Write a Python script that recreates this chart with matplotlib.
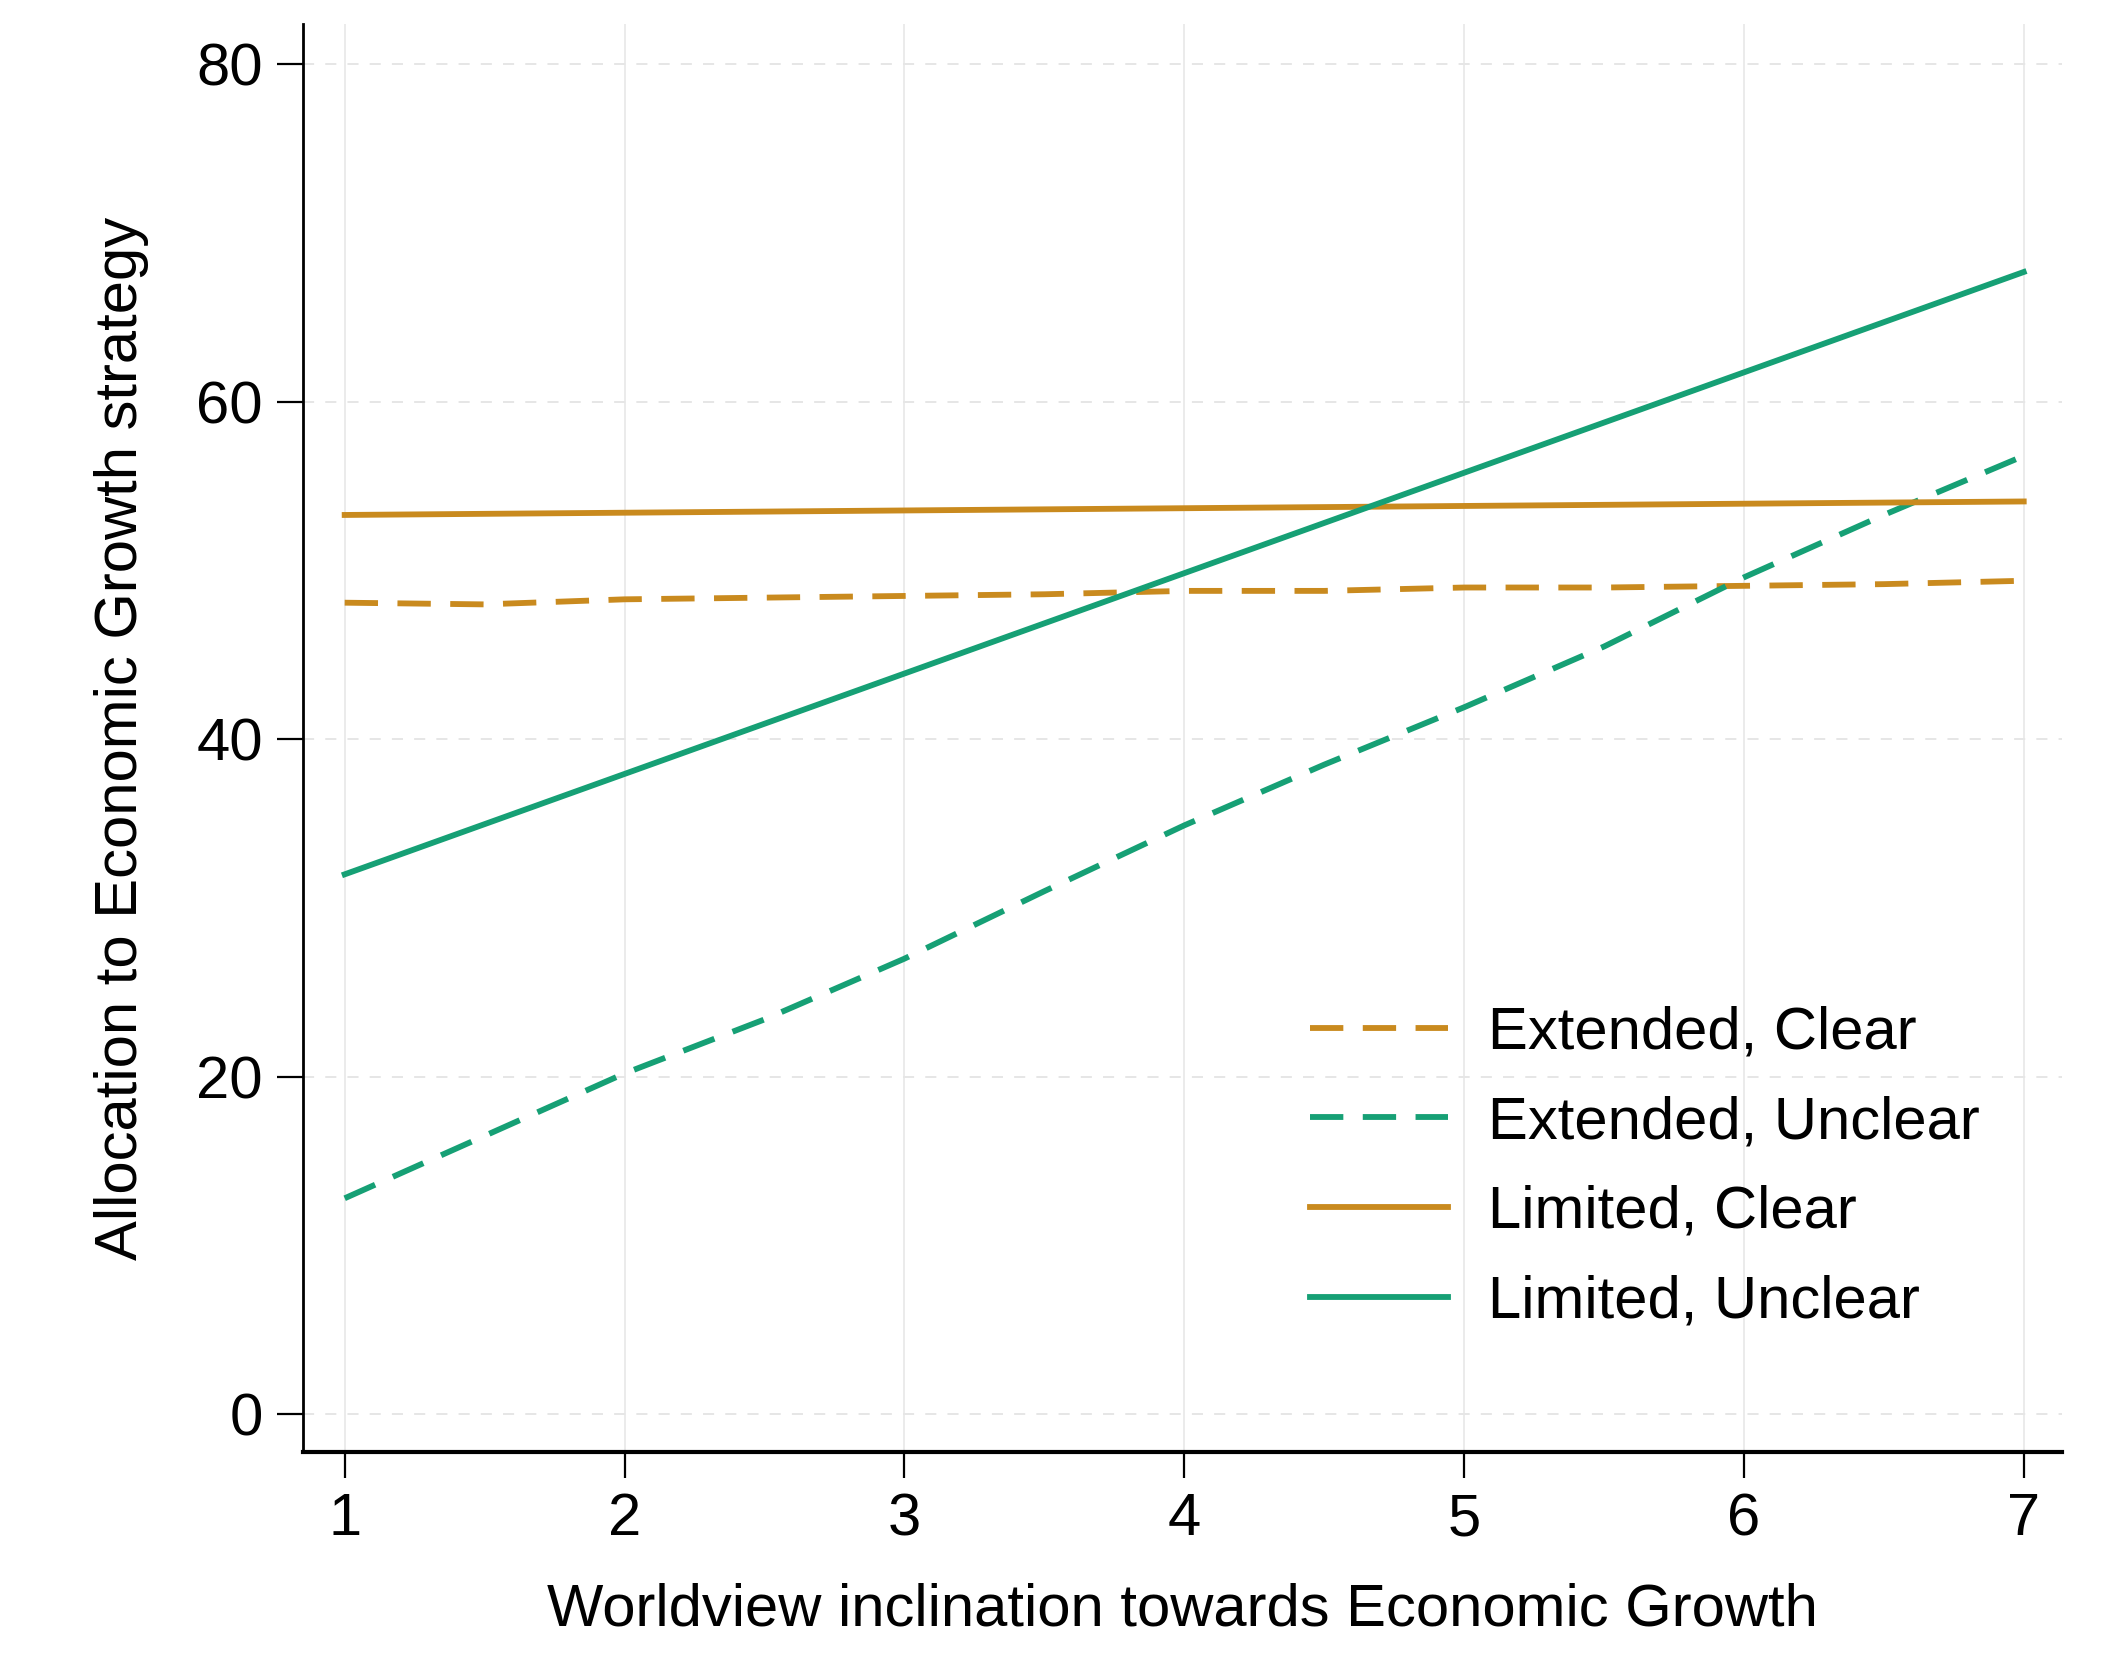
import matplotlib
matplotlib.use("Agg")
import matplotlib.pyplot as plt

plt.rcParams['font.family'] = ['Liberation Sans', 'DejaVu Sans']
plt.rcParams['lines.scale_dashes'] = False

x = [1, 1.5, 2, 2.5, 3, 3.5, 4, 4.5, 5, 5.5, 6, 6.5, 7]
extended_clear = [48.1, 48.0, 48.3, 48.4, 48.5, 48.6, 48.8, 48.8, 49.0, 49.0, 49.1, 49.2, 49.4]
extended_unclear = [12.8, 16.5, 20.2, 23.4, 27.0, 31.0, 34.9, 38.5, 41.9, 45.5, 49.6, 53.3, 56.8]
limited_x = [1, 7]
limited_clear = [53.3, 54.1]
limited_unclear = [32.0, 67.7]

xticks = [1, 2, 3, 4, 5, 6, 7]
yticks = [0, 20, 40, 60, 80]

orange = "#C98A1E"
green = "#16A075"
FS = 43

fig = plt.figure(figsize=(21.06, 16.54), dpi=100)
ax = fig.add_axes([0.144, 0.122, 0.835, 0.8635])

for xt in xticks:
    ax.axvline(xt, color="#ebebeb", lw=1.4, zorder=0)
for yt in yticks:
    ax.axhline(yt, color="#e6e6e6", lw=1.4, ls=(0, (8, 8)), zorder=0)

lw = 4.2
dash = (0, (24, 14))
ax.plot(x, extended_clear, color=orange, lw=lw, ls=dash, label="Extended, Clear")
ax.plot(x, extended_unclear, color=green, lw=lw, ls=dash, label="Extended, Unclear")
ax.plot(limited_x, limited_clear, color=orange, lw=lw, label="Limited, Clear")
ax.plot(limited_x, limited_unclear, color=green, lw=lw, label="Limited, Unclear")

ax.set_xlim(0.852, 7.136)
ax.set_ylim(-2.25, 82.4)
ax.set_xticks(xticks)
ax.set_yticks(yticks)
ax.tick_params(axis='both', labelsize=FS, length=19, width=1.6, color="black")
ax.tick_params(axis='y', pad=10)
ax.tick_params(axis='x', pad=10)
for s in ["top", "right"]:
    ax.spines[s].set_visible(False)
ax.spines["left"].set_linewidth(2.0)
ax.spines["bottom"].set_linewidth(3.0)

ax.set_xlabel("Worldview inclination towards Economic Growth", fontsize=FS, labelpad=25)
ax.set_ylabel("Allocation to Economic Growth strategy", fontsize=FS, labelpad=34)

leg = ax.legend(loc="upper left", bbox_to_anchor=(0.559, 0.3295), frameon=False,
                fontsize=FS, handlelength=2.3, handletextpad=0.67, labelspacing=0.58,
                borderaxespad=0)
fig.savefig("out.png", dpi=100)
